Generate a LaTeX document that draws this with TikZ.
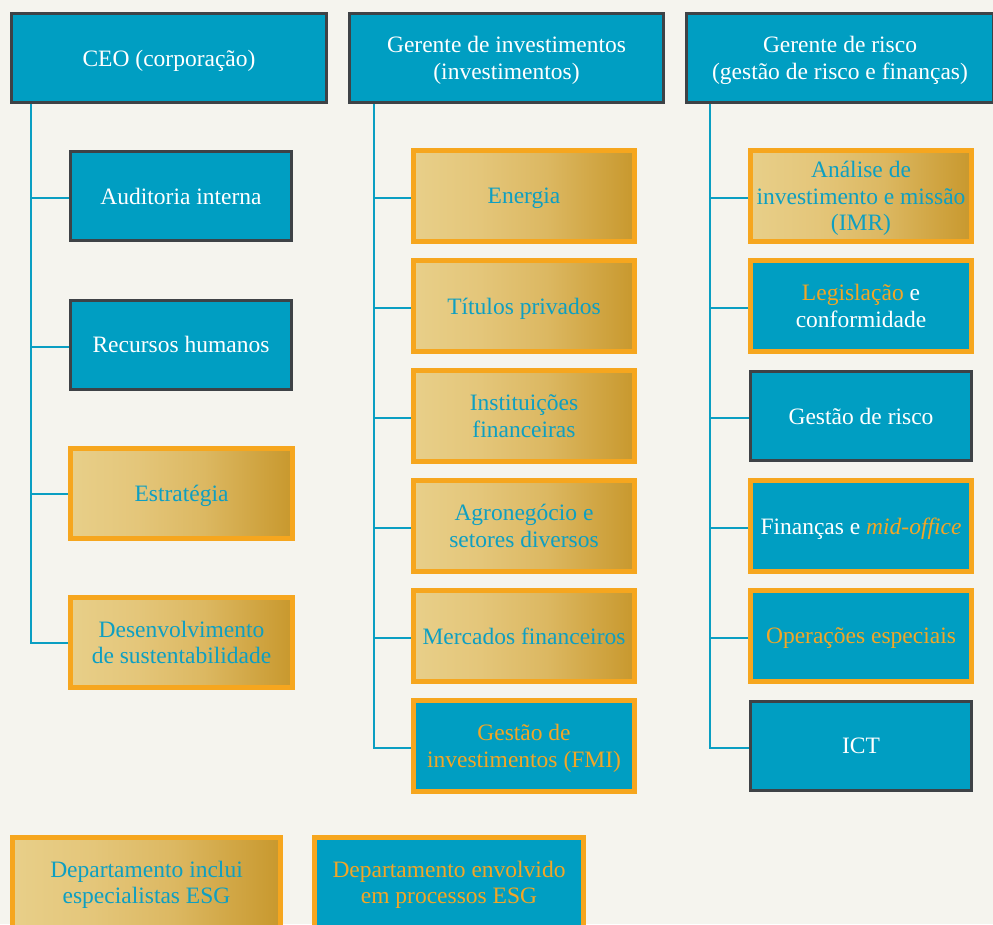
\documentclass[tikz,border=0pt]{standalone}
\usepackage{fontspec}
\setmainfont{Liberation Serif}
\definecolor{bg}{RGB}{245,244,238}
\definecolor{blueF}{RGB}{0,158,194}
\definecolor{blueT}{RGB}{14,159,194}
\definecolor{darkB}{RGB}{62,66,70}
\definecolor{orangeB}{RGB}{246,166,30}
\definecolor{orangeT}{RGB}{242,166,38}
\definecolor{lineC}{RGB}{10,158,194}
\definecolor{goldA}{RGB}{232,207,137}
\definecolor{goldB}{RGB}{228,198,122}
\definecolor{goldC}{RGB}{220,184,98}
\definecolor{goldD}{RGB}{200,152,45}
\pgfdeclarehorizontalshading{goldgrad}{100bp}{color(0bp)=(goldA); color(25bp)=(goldA); color(40bp)=(goldB); color(55bp)=(goldC); color(75bp)=(goldD); color(100bp)=(goldD)}
\newcommand{\fsz}{\fontsize{23.5}{26.5}\selectfont}
\tikzset{
  base/.style={rectangle, inner sep=0pt, align=center, font=\fsz, text depth=-1pt},
  darkbox/.style={base, draw=darkB, line width=3pt, fill=blueF, text=white},
  goldbox/.style={base, draw=orangeB, line width=5pt, shade, shading=goldgrad, text=blueT},
  bluebox/.style={base, draw=orangeB, line width=5pt, fill=blueF, text=white},
  conn/.style={draw=lineC, line width=2pt},
  c1/.style={minimum width=221pt, minimum height=89pt},
  c1g/.style={minimum width=222pt, minimum height=90pt},
  cw/.style={minimum width=221pt, minimum height=91pt},
  cd/.style={minimum width=221pt, minimum height=89pt},
}
\begin{document}
\begin{tikzpicture}[x=1pt,y=-1pt]
\fill[bg] (0,0) rectangle (993,924);
\useasboundingbox (0,0) rectangle (993,924);
\clip (0,0) rectangle (993,924);

% headers
\node[darkbox, minimum width=315pt, minimum height=89pt] (ceo) at (169,58) {CEO (corporação)};
\node[darkbox, minimum width=314pt, minimum height=89pt] (inv) at (506.5,58) {Gerente de investimentos\\(investimentos)};
\node[darkbox, minimum width=307pt, minimum height=89pt] (risk) at (840,58) {Gerente de risco\\(gestão de risco e finanças)};

% column 1
\node[darkbox, c1] (aud) at (181,196) {Auditoria interna};
\node[darkbox, c1] (rh) at (181,344.5) {Recursos humanos};
\node[goldbox, c1g] (est) at (181.5,493.5) {Estratégia};
\node[goldbox, c1g] (des) at (181.5,642.5) {Desenvolvimento\\de sustentabilidade};

% column 2
\node[goldbox, cw] (ene) at (524,196) {Energia};
\node[goldbox, cw] (tit) at (524,306) {Títulos privados};
\node[goldbox, cw] (ins) at (524,416) {Instituições\\financeiras};
\node[goldbox, cw] (agr) at (524,526) {Agronegócio e\\setores diversos};
\node[goldbox, cw] (mer) at (524,636) {Mercados financeiros};
\node[bluebox, cw, text=orangeT] (fmi) at (524,746) {Gestão de\\investimentos (FMI)};

% column 3
\node[goldbox, cw] (ana) at (861,196) {Análise de\\investimento e missão\\(IMR)};
\node[bluebox, cw] (leg) at (861,306) {{\color{orangeT}Legislação} e\\conformidade};
\node[darkbox, cd] (ger) at (861,416) {Gestão de risco};
\node[bluebox, cw] (fin) at (861,526) {Finanças e {\color{orangeT}\itshape mid-office}};
\node[bluebox, cw, text=orangeT] (ope) at (861,636) {Operações especiais};
\node[darkbox, cd] (ict) at (861,746) {ICT};

% legend
\node[goldbox, minimum width=268pt, minimum height=90pt] (lg1) at (146.5,882.5) {Departamento inclui\\especialistas ESG};
\node[bluebox, minimum width=269pt, minimum height=90pt, text=orangeT] (lg2) at (449,882.5) {Departamento envolvido\\em processos ESG};

% trunks
\coordinate (t1) at (31,104);
\coordinate (t2) at (373.5,104);
\coordinate (t3) at (710,104);

\draw[conn] (t1) |- ([yshift=-2pt]aud.west);
\draw[conn] (t1) |- ([yshift=-2pt]rh.west);
\draw[conn] (t1) |- (est.west);
\draw[conn] (t1) |- (des.west);

\draw[conn] (t2) |- ([yshift=-2pt]ene.west);
\draw[conn] (t2) |- ([yshift=-2pt]tit.west);
\draw[conn] (t2) |- ([yshift=-2pt]ins.west);
\draw[conn] (t2) |- ([yshift=-2pt]agr.west);
\draw[conn] (t2) |- ([yshift=-2pt]mer.west);
\draw[conn] (t2) |- ([yshift=-2pt]fmi.west);

\draw[conn] (t3) |- ([yshift=-2pt]ana.west);
\draw[conn] (t3) |- ([yshift=-2pt]leg.west);
\draw[conn] (t3) |- ([yshift=-2pt]ger.west);
\draw[conn] (t3) |- ([yshift=-2pt]fin.west);
\draw[conn] (t3) |- ([yshift=-2pt]ope.west);
\draw[conn] (t3) |- ([yshift=-2pt]ict.west);
\end{tikzpicture}
\end{document}
